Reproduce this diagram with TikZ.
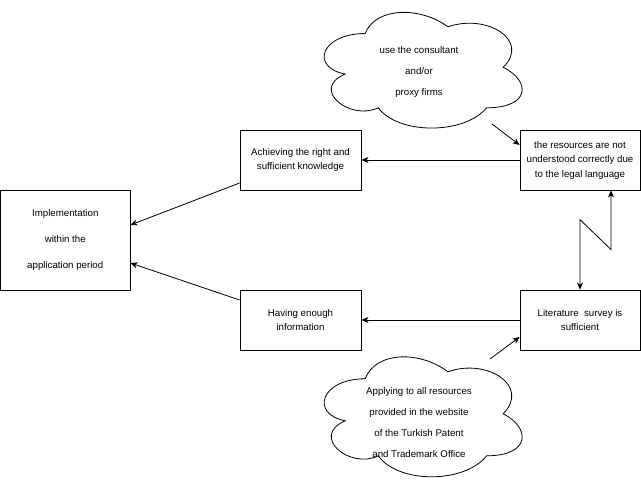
\documentclass[tikz,border=0pt]{standalone}
\usepackage{fontspec}
\setmainfont{Liberation Sans}
\usetikzlibrary{arrows.meta}
\begin{document}
\begin{tikzpicture}[x=1pt,y=-1pt]
\tikzset{
 box/.style={draw, line width=0.8pt, rectangle, inner sep=0pt, align=center, font=\fontsize{9.7}{14.5}\selectfont},
 conn/.style={draw, line width=0.8pt, -{Stealth[length=7pt,width=6pt,inset=2pt]}},
 connboth/.style={draw, line width=0.8pt, {Stealth[length=7pt,width=6pt,inset=2pt]}-{Stealth[length=7pt,width=6pt,inset=2pt]}},
 cloudtext/.style={align=center, font=\fontsize{9.7}{21}\selectfont, inner sep=0pt},
 cloudline/.style={draw, line width=0.8pt},
 cloudarea/.style={rectangle, inner sep=0pt}
}
\path[use as bounding box, fill=white] (0,0) rectangle (641,485);

% boxes
\node[box, minimum width=129.5pt, minimum height=100pt, font=\fontsize{9.7}{26}\selectfont] (impl) at (65.25,240) {Implementation\\within the\\application period};
\node[box, minimum width=121pt, minimum height=60pt] (ach) at (300.5,160) {Achieving the right and\\sufficient knowledge};
\node[box, minimum width=121pt, minimum height=60pt] (hav) at (300.5,320) {Having enough\\information};
\node[box, minimum width=120pt, minimum height=60pt] (res) at (580,160) {the resources are not\\understood correctly due\\to the legal language};
\node[box, minimum width=120pt, minimum height=60pt] (lit) at (580,320) {Literature~ survey is\\sufficient};

% clouds
\node[cloudarea, minimum width=221pt, minimum height=135pt] (cloudA) at (420.5,67.5) {};
\begin{scope}[shift={(cloudA.north west)}, x=221pt, y=-135pt]
\draw[cloudline] (0.25,0.25) .. controls (0.05,0.25) and (0,0.5) .. (0.16,0.55)
 .. controls (0,0.66) and (0.18,0.9) .. (0.31,0.8)
 .. controls (0.4,1) and (0.7,1) .. (0.8,0.8)
 .. controls (1,0.8) and (1,0.6) .. (0.875,0.5)
 .. controls (1,0.3) and (0.8,0.1) .. (0.625,0.2)
 .. controls (0.5,0.05) and (0.3,0.05) .. (0.25,0.25) -- cycle;
\end{scope}
\node[cloudtext] (cloudAtext) at (419,72) {use the consultant\\and/or\\proxy firms};

\node[cloudarea, minimum width=221pt, minimum height=140pt] (cloudB) at (420.5,414) {};
\begin{scope}[shift={(cloudB.north west)}, x=221pt, y=-140pt]
\draw[cloudline] (0.25,0.25) .. controls (0.05,0.25) and (0,0.5) .. (0.16,0.55)
 .. controls (0,0.66) and (0.18,0.9) .. (0.31,0.8)
 .. controls (0.4,1) and (0.7,1) .. (0.8,0.8)
 .. controls (1,0.8) and (1,0.6) .. (0.875,0.5)
 .. controls (1,0.3) and (0.8,0.1) .. (0.625,0.2)
 .. controls (0.5,0.05) and (0.3,0.05) .. (0.25,0.25) -- cycle;
\end{scope}
\node[cloudtext] (cloudBtext) at (419,423) {Applying to all resources\\provided in the website\\of the Turkish Patent\\and Trademark Office};

% free ends of the cloud arrows
\coordinate (a1) at (492,124);
\coordinate (a2) at (490,359);

% connectors
\draw[conn] (res.west) -- (ach.east);
\draw[conn] (lit.west) -- (hav.east);
\draw[conn] ([yshift=-23pt]ach.west) -- ([yshift=15pt]impl.east);
\draw[conn] ([yshift=20pt]hav.west) -- ([yshift=-23pt]impl.east);
\draw[conn] (a1) -- ([yshift=15pt]res.west);
\draw[conn] (a2) -- ([yshift=-17pt]lit.west);
\draw[connboth] (lit.north) -- ++(0,-70) -- ++(31,30) -- ([xshift=31pt]res.south);
\end{tikzpicture}
\end{document}
